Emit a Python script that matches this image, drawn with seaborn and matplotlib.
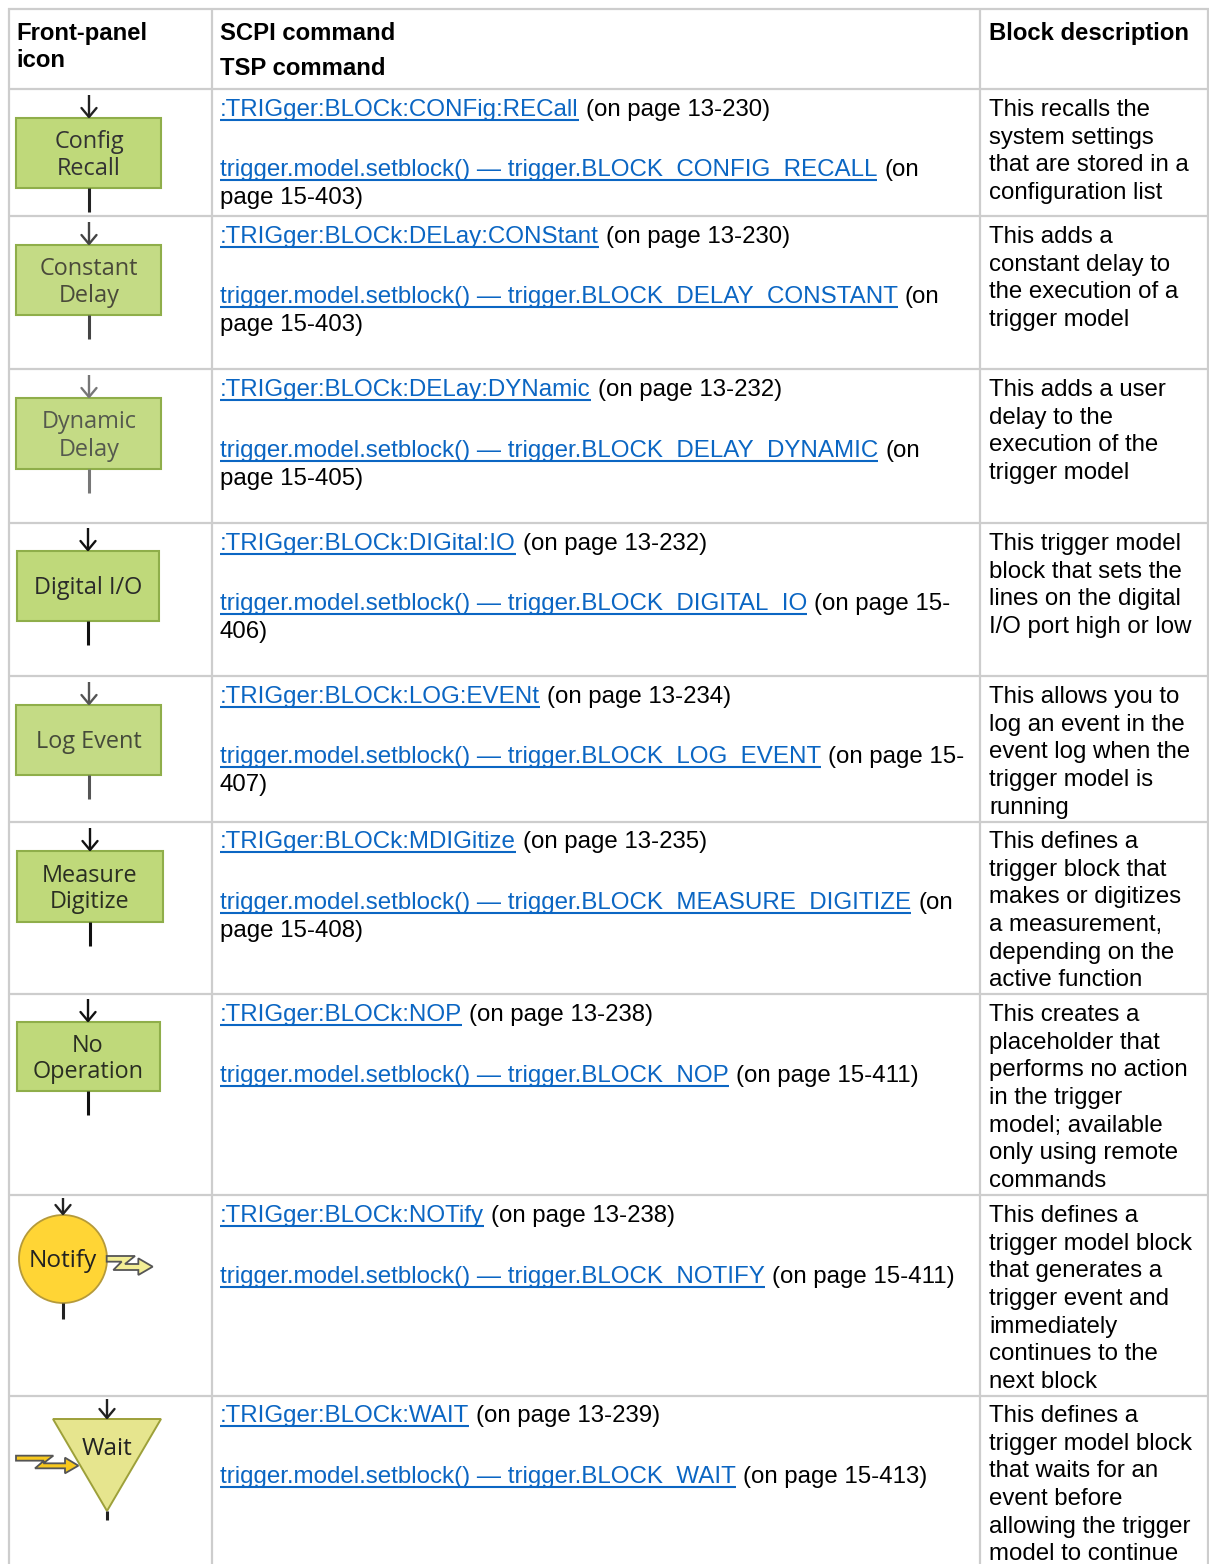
import matplotlib
matplotlib.use("Agg")
import matplotlib.pyplot as plt
from matplotlib.patches import Polygon, Rectangle, Circle
import seaborn as sns

# ---------- content ----------
headers_col1 = ["Front-panel", "icon"]
headers_col2 = ["SCPI command", "TSP command"]
headers_col3 = ["Block description"]

scpi_links = [":TRIGger:BLOCk:CONFig:RECall", ":TRIGger:BLOCk:DELay:CONStant",
              ":TRIGger:BLOCk:DELay:DYNamic", ":TRIGger:BLOCk:DIGital:IO",
              ":TRIGger:BLOCk:LOG:EVENt", ":TRIGger:BLOCk:MDIGitize",
              ":TRIGger:BLOCk:NOP", ":TRIGger:BLOCk:NOTify", ":TRIGger:BLOCk:WAIT"]
scpi_pages = ["(on page 13-230)", "(on page 13-230)", "(on page 13-232)", "(on page 13-232)",
              "(on page 13-234)", "(on page 13-235)", "(on page 13-238)", "(on page 13-238)",
              "(on page 13-239)"]
tsp_links = ["trigger.model.setblock() \u2014 trigger.BLOCK_CONFIG_RECALL",
             "trigger.model.setblock() \u2014 trigger.BLOCK_DELAY_CONSTANT",
             "trigger.model.setblock() \u2014 trigger.BLOCK_DELAY_DYNAMIC",
             "trigger.model.setblock() \u2014 trigger.BLOCK_DIGITAL_IO",
             "trigger.model.setblock() \u2014 trigger.BLOCK_LOG_EVENT",
             "trigger.model.setblock() \u2014 trigger.BLOCK_MEASURE_DIGITIZE",
             "trigger.model.setblock() \u2014 trigger.BLOCK_NOP",
             "trigger.model.setblock() \u2014 trigger.BLOCK_NOTIFY",
             "trigger.model.setblock() \u2014 trigger.BLOCK_WAIT"]
tsp_pages = [["(on", "page 15-403)"], ["(on", "page 15-403)"], ["(on", "page 15-405)"],
             ["(on page 15-", "406)"], ["(on page 15-", "407)"], ["(on", "page 15-408)"],
             ["(on page 15-411)"], ["(on page 15-411)"], ["(on page 15-413)"]]
descriptions = [
    ["This recalls the", "system settings", "that are stored in a", "configuration list"],
    ["This adds a", "constant delay to", "the execution of a", "trigger model"],
    ["This adds a user", "delay to the", "execution of the", "trigger model"],
    ["This trigger model", "block that sets the", "lines on the digital", "I/O port high or low"],
    ["This allows you to", "log an event in the", "event log when the", "trigger model is", "running"],
    ["This defines a", "trigger block that", "makes or digitizes", "a measurement,", "depending on the", "active function"],
    ["This creates a", "placeholder that", "performs no action", "in the trigger", "model; available", "only using remote", "commands"],
    ["This defines a", "trigger model block", "that generates a", "trigger event and", "immediately", "continues to the", "next block"],
    ["This defines a", "trigger model block", "that waits for an", "event before", "allowing the trigger", "model to continue"],
]
icon_labels = [["Config", "Recall"], ["Constant", "Delay"], ["Dynamic", "Delay"], ["Digital I/O"],
               ["Log Event"], ["Measure", "Digitize"], ["No", "Operation"]]

# ---------- layout (pixels) ----------
W, H = 1209, 1564
col_lines = [8.5, 212, 980, 1208]
row_lines = [8.5, 88.5, 216, 369, 523, 676, 822, 994, 1195, 1396]
first_base = [116, 243, 396, 550, 703, 848, 1021, 1222, 1422]
second_base = [176, 303, 457, 610, 763, 909, 1082, 1283, 1483]
box_geom = [(16, 118, 145, 70, 89), (16, 245, 145, 70, 89), (16, 398, 145, 71, 89),
            (17, 551, 142, 70, 88), (16, 705, 145, 70, 89), (17, 851, 146, 71, 90),
            (17, 1022, 143, 69, 88)]
icon_style = [("#222222", "#333333", "#BFD97A"), ("#444444", "#4a4a3a", "#C4DB85"),
              ("#777777", "#55594e", "#C4DB85"), ("#111111", "#2a2a2a", "#BFD97A"),
              ("#555555", "#454a3a", "#C4DB85"), ("#111111", "#2a2e22", "#BFD97A"),
              ("#111111", "#2a2e22", "#BFD97A")]

sns.set_theme(style="white")
plt.rcParams["font.family"] = ["Liberation Sans", "DejaVu Sans"]
FS = 17.25
FS_LINK = 17.42
FS_HEAD = 17.2
LINK = "#0B66C3"
GRID = "#CDCDCD"

fig = plt.figure(figsize=(W / 100, H / 100), dpi=100)
ax = fig.add_axes([0, 0, 1, 1])
ax.set_xlim(0, W)
ax.set_ylim(H, 0)
ax.set_axis_off()
sns.despine(ax=ax, left=True, bottom=True)

for x in col_lines:
    ax.plot([x, x], [7.5, H], color=GRID, lw=1.6, solid_capstyle="butt")
for y in row_lines:
    ax.plot([8, 1209], [y, y], color=GRID, lw=1.6, solid_capstyle="butt")

renderer = fig.canvas.get_renderer()


def put(x, y, s, **kw):
    kw.setdefault("fontsize", FS)
    kw.setdefault("color", "black")
    return ax.text(x, y, s, va="baseline", ha=kw.pop("ha", "left"), **kw)


def link_then(x, y, link, tail):
    t = put(x, y, link, color=LINK, fontsize=FS_LINK)
    right = t.get_window_extent(renderer).x1
    ax.plot([x, right], [y + 3.5, y + 3.5], color=LINK, lw=1.5, solid_capstyle="butt")
    put(right + 7, y, tail)


# header
for s, y in zip(headers_col1, [40, 67]):
    put(16, y, s, fontweight="bold", fontsize=FS_HEAD)
for s, y in zip(headers_col2, [40, 75]):
    put(220, y, s, fontweight="bold", fontsize=FS_HEAD)
put(989, 40, headers_col3[0], fontweight="bold", fontsize=FS_HEAD)

# body text
for i in range(9):
    link_then(220, first_base[i], scpi_links[i], scpi_pages[i])
    link_then(220, second_base[i], tsp_links[i], tsp_pages[i][0])
    if len(tsp_pages[i]) > 1:
        put(220, second_base[i] + 28, tsp_pages[i][1])
    for j, line in enumerate(descriptions[i]):
        put(989, first_base[i] + j * 27.7, line)


def arrow(x, y0, y1, c):
    ax.plot([x, x], [y0, y1 - 1], color=c, lw=1.7, solid_capstyle="butt")
    ax.plot([x - 7.5, x, x + 7.5], [y1 - 10, y1 - 1, y1 - 10], color=c, lw=1.7)


def stem(x, y0, y1, c):
    ax.plot([x, x], [y0, y1], color=c, lw=2.2, solid_capstyle="butt")


# rectangular icons
for (x, y, w, h, cx), lab, (ac, tc, fc) in zip(box_geom, icon_labels, icon_style):
    ax.add_patch(Rectangle((x, y), w, h, fc=fc, ec="#8FAE4A", lw=1.5))
    arrow(cx, y - 23, y, ac)
    stem(cx, y + h, y + h + 24, ac)
    mid = y + h / 2
    if len(lab) == 2:
        ys = [mid - 5, mid + 22]
    else:
        ys = [mid + 8]
    for s, yy in zip(lab, ys):
        put(cx, yy, s, ha="center", fontsize=16.9, color=tc, family="Open Sans")

# Notify icon
ax.add_patch(Circle((63, 1259), 44, fc="#FFD535", ec="#B59A3A", lw=1.3))
arrow(63, 1198, 1215, "#222222")
stem(63, 1303, 1319, "#222222")
put(63, 1267, "Notify", ha="center", fontsize=17.6, color="#222222", family="Open Sans")
notify_bolt = [(320, 198), (405, 198), (375, 222), (415, 222), (415, 205), (458, 230),
               (415, 255), (415, 240), (340, 240), (365, 215), (320, 215)]
ax.add_patch(Polygon([(a / 3, b / 3 + 1190) for a, b in notify_bolt], closed=True,
                     fc="#F3EE95", ec="#555555", lw=1.3))

# Wait icon
ax.add_patch(Polygon([(53, 1419), (161, 1419), (107, 1511)], closed=True,
                     fc="#E6E58E", ec="#9DA03A", lw=1.4))
arrow(107, 1399, 1419, "#222222")
stem(107, 1511, 1520, "#222222")
put(107, 1455, "Wait", ha="center", fontsize=17.6, color="#222222", family="Open Sans")
wait_bolt = [(48, 797), (160, 797), (130, 820), (195, 820), (195, 803), (235, 827),
             (195, 850), (195, 835), (105, 835), (132, 812), (48, 812)]
ax.add_patch(Polygon([(a / 3, b / 3 + 1190) for a, b in wait_bolt], closed=True,
                     fc="#F7C81E", ec="#555555", lw=1.3))

fig.savefig("out.png", dpi=100, facecolor="white")
